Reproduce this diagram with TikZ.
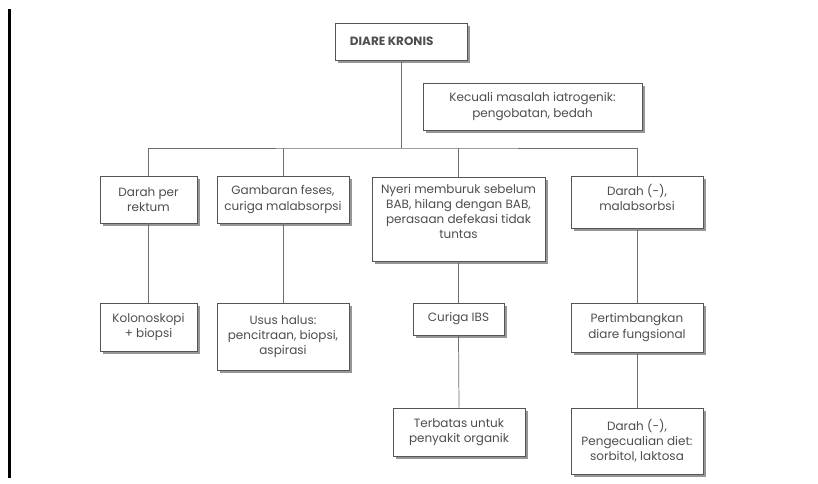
\documentclass[tikz,border=0pt]{standalone}
\usepackage{fontspec}
\setmainfont{Poppins}
\usetikzlibrary{shadows}
\definecolor{txt}{RGB}{78,78,78}
\definecolor{edge}{RGB}{85,85,85}
\definecolor{wire}{RGB}{110,110,110}
\definecolor{shade}{RGB}{150,150,150}
\newcommand{\mybox}[6]{%
  \node[box, minimum width={(#4-#2)*0.75pt}, minimum height={(#5-#3)*0.75pt}]
    (#1) at ({(#2+#4)/2},{(#3+#5)/2}) {#6};}
\begin{document}
\begin{tikzpicture}[x=0.75pt,y=-0.75pt,
  box/.style={draw=edge, line width=0.5pt, fill=white, inner sep=0pt,
    align=center, text=txt, font=\fontsize{9}{11.4}\selectfont,
    drop shadow={shadow xshift=2.6pt, shadow yshift=-2.6pt, fill=shade, opacity=1}},
  link/.style={draw=wire, line width=0.55pt}]
\useasboundingbox (0,0) rectangle (818,484);
\fill[white] (0,0) rectangle (818,484);
% left margin bar
\draw[black, line width=1.7pt] (9.5,9) -- (9.5,478);
% boxes
\mybox{dk}{335}{23}{467}{60}{\bfseries DIARE KRONIS\hspace{14pt}}
\mybox{kc}{423}{83}{642}{130}{Kecuali masalah iatrogenik:\\pengobatan, bedah}
\mybox{d1}{100}{176}{197}{223}{Darah per\\rektum}
\mybox{d2}{217}{176}{349}{223}{Gambaran feses,\\curiga malabsorpsi}
\mybox{d3}{372}{177}{545}{261}{Nyeri memburuk sebelum\\BAB, hilang dengan BAB,\\perasaan defekasi tidak\\tuntas\\\mbox{}}
\mybox{d4}{571}{176}{703}{228}{Darah (-),\\malabsorbsi\\[-4pt]\mbox{}}
\mybox{k1}{100}{303}{197}{351}{Kolonoskopi\\+ biopsi}
\mybox{k2}{217}{303}{349}{370}{Usus halus:\\pencitraan, biopsi,\\aspirasi}
\mybox{k3}{413}{303}{504}{335}{Curiga IBS}
\mybox{k4}{571}{303}{703}{352}{Pertimbangkan\\diare fungsional}
\mybox{t3}{393}{408}{525}{456}{Terbatas untuk\\penyakit organik}
\mybox{t4}{571}{408}{703}{474}{Darah (-),\\Pengecualian diet:\\sorbitol, laktosa}
% connectors
\coordinate (hub) at (401,148);
\draw[link] (dk.south) -- (hub);
\draw[link] (d1.north) |- (hub) -| (d4.north);
\draw[link] (d2.north) -- (d2.north |- hub);
\draw[link] (d3.north) -- (d3.north |- hub);
\draw[link] (d1.south) -- (k1.north);
\draw[link] (d2.south) -- (k2.north);
\draw[link] (d3.south) -- (k3.north);
\draw[link] (k3.south) -- (t3.north);
\draw[link] (d4.south) -- (k4.north);
\draw[link] (k4.south) -- (t4.north);
\end{tikzpicture}
\end{document}
